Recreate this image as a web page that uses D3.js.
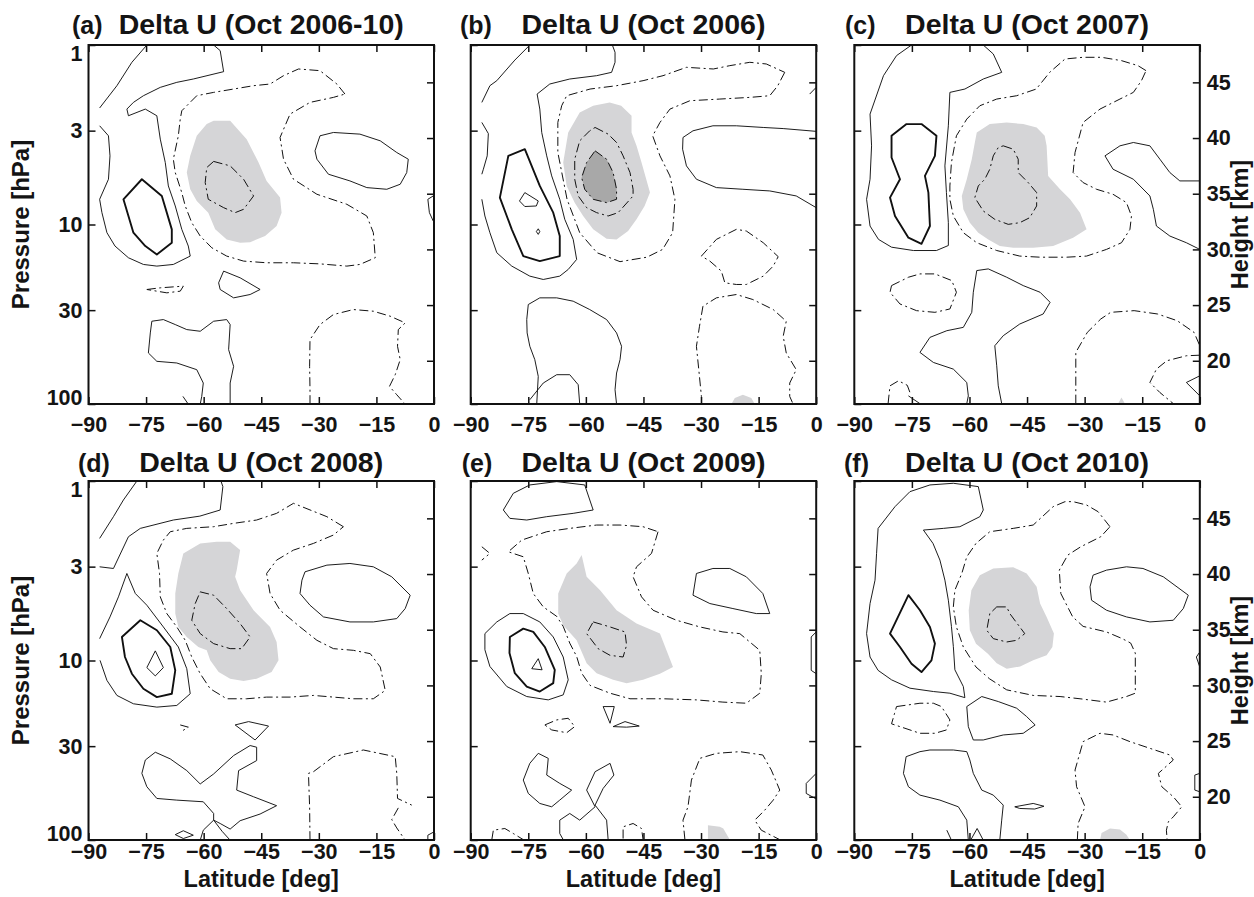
<!DOCTYPE html>
<html><head><meta charset="utf-8">
<script src="https://cdn.jsdelivr.net/npm/d3@7"></script>
<style>
body{margin:0;background:#fff;}
svg text{font-family:"Liberation Sans",Arial,Helvetica,sans-serif;font-weight:bold;fill:#141414;}
</style></head><body>
<svg id="chart" width="1254" height="897"></svg>
<script>
// ---------------- data ----------------
const latTicks=[-90,-75,-60,-45,-30,-15,0];
const pTicks=[1,3,10,30,100];
const zTicks=[20,25,30,35,40,45];
const scaleHeightKm=7;
const panelLetters=["(a)","(b)","(c)","(d)","(e)","(f)"];
const panelTitles=["Delta U (Oct 2006-10)","Delta U (Oct 2006)","Delta U (Oct 2007)","Delta U (Oct 2008)","Delta U (Oct 2009)","Delta U (Oct 2010)"];
// contour lines: [level, closed, [[lat, height km], ...]]
const linesA=[
[1,0,[[-74.8,48.35],[-78.7,46.8],[-82.6,44.7],[-87.1,42.7]]],
[1,0,[[-87.1,41.1],[-84.8,40.2],[-84.4,38.4],[-84.8,36.3],[-87.1,34.5],[-86.5,33.3],[-85.2,31.5],[-83.1,30.3],[-79.6,29.25],[-75.7,28.65],[-72.2,28.5],[-67.9,28.65],[-63.5,29.4],[-64.0,30.3],[-65.7,31.8],[-67.4,33.9],[-69.2,35.7],[-70.0,37.8],[-71.3,39.9],[-72.2,42.0],[-75.2,42.6],[-79.6,42.0],[-80.0,42.6],[-78.3,43.2],[-75.7,43.8],[-71.3,44.55],[-67.0,45.0],[-62.7,45.3],[-54.8,45.96],[-55.7,47.85],[-57.4,48.35]]],
[2,1,[[-80.9,34.5],[-76.1,36.3],[-70.9,34.8],[-68.3,31.8],[-68.3,30.6],[-72.2,29.55],[-75.2,30.3],[-78.3,31.5],[-79.6,33.0]]],
[-1,1,[[-23.2,43.95],[-25.3,44.85],[-29.7,46.05],[-35.3,46.2],[-39.2,45.6],[-42.7,44.85],[-47.0,44.7],[-52.2,44.4],[-57.4,44.1],[-61.8,43.8],[-65.7,42.45],[-66.1,41.7],[-66.6,40.2],[-67.9,38.1],[-67.4,36.9],[-65.7,35.1],[-64.8,33.9],[-63.1,32.4],[-60.9,31.2],[-57.9,30.15],[-54.0,29.4],[-49.6,28.95],[-43.6,28.8],[-36.6,28.8],[-29.7,28.7],[-22.7,28.5],[-19.3,28.65],[-15.3,29.25],[-15.8,31.5],[-17.5,33.0],[-22.7,34.05],[-30.5,34.95],[-36.6,36.3],[-39.2,38.1],[-40.1,40.05],[-37.5,42.15],[-32.3,43.2],[-26.2,43.65]]],
[-2,1,[[-57.4,37.9],[-53.1,37.5],[-49.6,36.3],[-47.0,34.8],[-49.6,33.6],[-51.8,33.3],[-54.8,33.75],[-58.8,34.5],[-59.6,36.0],[-59.2,37.35]]],
[1,1,[[-29.7,40.2],[-26.2,40.5],[-19.3,40.35],[-14.0,39.75],[-9.7,38.7],[-6.7,38.1],[-7.1,36.9],[-8.8,35.85],[-12.3,35.4],[-17.5,35.55],[-21.9,36.15],[-27.5,36.75],[-30.5,38.1],[-31.0,38.85]]],
[1,0,[[-0.2,34.8],[-1.6,34.5],[-1.2,33.3],[-0.2,32.55]]],
[-1,1,[[-74.8,26.4],[-71.3,26.55],[-65.3,26.7],[-66.1,26.25],[-69.6,26.1]]],
[1,1,[[-54.8,28.05],[-50.5,27.45],[-45.3,26.4],[-47.9,25.95],[-52.2,25.65],[-55.7,26.4],[-56.1,27.0]]],
[1,0,[[-53.1,16.1],[-53.1,18.0],[-52.2,19.5],[-53.5,21.0],[-53.1,23.25],[-54.0,23.7],[-57.4,23.55],[-60.9,22.65],[-64.4,22.8],[-67.4,23.25],[-70.5,23.7],[-73.5,23.55],[-73.9,22.5],[-74.4,20.7],[-72.2,19.95],[-67.0,19.8],[-61.8,19.2],[-60.1,18.0],[-60.5,16.8],[-60.9,16.1]]],
[1,0,[[-65.4,16.8],[-64.0,16.1]]],
[-1,0,[[-32.3,16.1],[-32.3,17.4],[-32.4,19.5],[-32.3,21.9],[-29.7,23.25],[-26.2,24.15],[-21.0,24.6],[-15.8,24.45],[-11.4,24.0],[-7.5,23.4],[-9.3,22.8],[-9.5,21.3],[-8.8,20.1],[-10.1,18.75],[-11.6,17.7],[-9.7,16.95],[-7.5,16.1]]]
];
// shaded areas: [shade level, [[lat, height km], ...]]
const shadeA=[
[1,[[-57.4,41.55],[-53.1,41.55],[-48.8,39.9],[-45.7,37.8],[-43.6,36.15],[-40.1,34.65],[-39.7,33.3],[-41.0,32.1],[-44.0,31.2],[-47.9,30.65],[-50.5,30.6],[-54.0,30.9],[-57.0,31.8],[-58.8,33.3],[-61.8,34.35],[-63.5,35.4],[-64.4,36.9],[-63.5,38.4],[-61.8,40.2],[-59.2,41.25]]]
];
const linesB=[
[1,0,[[-74.6,48.35],[-78.5,47.0],[-83.2,45.15],[-85.0,44.7],[-87.1,43.2]]],
[1,0,[[-87.1,41.4],[-85.4,40.4],[-85.7,38.4],[-86.7,37.2],[-87.1,36.75]]],
[1,0,[[-87.1,34.5],[-86.3,33.0],[-85.0,31.5],[-83.2,29.7],[-79.3,28.5],[-74.6,27.6],[-71.1,27.3],[-66.8,27.6],[-64.6,28.2],[-62.4,29.1],[-63.3,30.9],[-65.5,32.7],[-66.8,34.5],[-68.9,36.6],[-70.2,38.4],[-71.5,40.5],[-72.0,42.6],[-72.7,43.95],[-69.4,44.85],[-64.2,45.3],[-57.2,45.6],[-53.3,45.9],[-52.4,46.8],[-52.4,47.7],[-53.1,48.35]]],
[2,1,[[-75.9,39.0],[-72.0,35.7],[-68.5,33.3],[-66.8,31.2],[-66.8,29.4],[-72.0,28.95],[-76.3,29.4],[-79.3,31.8],[-82.4,34.65],[-80.2,38.4]]],
[3,1,[[-75.9,35.1],[-72.4,34.35],[-72.9,33.9],[-75.9,33.85],[-77.3,34.35]]],
[3,1,[[-72.4,31.85],[-72.0,31.6],[-72.4,31.35],[-72.9,31.6]]],
[-1,1,[[-8.2,45.9],[-10.0,44.7],[-12.1,43.8],[-17.3,43.65],[-25.1,43.5],[-32.9,43.35],[-38.1,42.6],[-40.7,41.4],[-42.6,40.2],[-40.7,38.4],[-38.1,36.6],[-36.8,34.5],[-37.4,31.5],[-40.0,30.0],[-44.1,29.3],[-51.1,28.9],[-57.1,29.7],[-61.6,31.5],[-64.9,34.5],[-67.3,38.7],[-67.3,41.4],[-66.3,42.9],[-65.0,43.8],[-58.9,44.4],[-52.0,44.7],[-45.1,45.15],[-39.9,45.6],[-33.8,46.35],[-26.8,46.2],[-22.5,46.5],[-17.3,46.8],[-13.0,46.65]]],
[-2,1,[[-57.6,40.95],[-54.2,40.35],[-52.0,39.6],[-50.3,38.4],[-48.5,36.9],[-47.7,35.4],[-47.7,34.8],[-51.6,33.3],[-54.2,33.0],[-57.2,33.3],[-59.8,33.75],[-62.0,34.8],[-62.9,36.3],[-62.9,38.1],[-61.6,39.75],[-59.0,40.65]]],
[-3,1,[[-57.6,38.85],[-54.6,38.1],[-52.9,36.9],[-52.0,35.4],[-52.0,34.5],[-54.6,34.2],[-58.1,34.5],[-60.3,35.4],[-61.1,36.45],[-59.8,37.8]]],
[1,0,[[0,40.6],[-8.6,40.85],[-13.8,40.95],[-20.8,41.1],[-26.9,41.1],[-32.1,40.65],[-34.7,40.05],[-34.8,39.0],[-33.8,37.5],[-31.2,36.3],[-26.0,35.55],[-19.1,35.4],[-12.1,35.25],[-5.2,34.8],[0,33.75]]],
[1,0,[[-1.7,43.95],[0,44.55]]],
[-1,1,[[-29.9,29.4],[-26.0,30.9],[-20.8,31.8],[-18.2,31.65],[-13.8,30.6],[-9.9,29.35],[-11.2,28.5],[-13.8,27.6],[-18.2,26.85],[-20.8,26.85],[-23.8,27.0],[-24.7,28.05],[-27.7,28.95]]],
[-1,0,[[-29.9,16.1],[-29.9,16.8],[-30.5,18.9],[-31.2,21.3],[-30.4,23.1],[-29.5,24.9],[-26.0,25.65],[-20.8,25.95],[-16.5,25.5],[-11.2,24.6],[-7.8,23.55],[-8.6,22.2],[-7.8,20.7],[-5.2,19.2],[-6.9,18.0],[-6.9,16.8],[-6.0,16.1]]],
[1,0,[[-72.8,16.1],[-72.4,18.6],[-73.3,20.1],[-74.6,21.3],[-75.3,22.5],[-75.4,23.7],[-75.0,25.05],[-72.0,25.65],[-67.6,25.65],[-63.3,25.35],[-59.0,24.6],[-54.6,23.7],[-52.0,22.5],[-50.7,21.3],[-51.1,20.1],[-52.0,18.9],[-52.4,17.4],[-52.0,16.1]]],
[1,0,[[-74.6,16.5],[-71.1,18.0],[-67.6,18.75],[-64.2,18.75],[-62.0,17.85],[-61.6,16.1]]]
];
const shadeB=[
[1,[[-61.6,42.3],[-58.1,42.9],[-53.8,43.2],[-50.8,42.9],[-48.1,42.0],[-48.1,40.5],[-46.8,39.3],[-45.5,37.8],[-43.3,35.1],[-44.7,33.9],[-46.8,32.7],[-49.0,31.65],[-52.0,30.9],[-54.6,30.95],[-58.1,31.8],[-60.7,33.0],[-62.9,34.2],[-65.0,35.7],[-65.9,37.8],[-64.6,40.5]]],
[2,[[-57.6,38.85],[-54.6,38.1],[-52.9,36.9],[-52.0,35.4],[-52.0,34.5],[-54.6,34.2],[-58.1,34.5],[-60.3,35.4],[-61.1,36.45],[-59.8,37.8]]],
[1,[[-22.1,16.1],[-21.2,16.65],[-19.1,16.95],[-16.9,16.65],[-16.0,16.1]]]
];
const linesC=[
[1,0,[[-75.1,48.35],[-79.0,47.4],[-82.4,45.6],[-85.9,42.15],[-85.5,39.3],[-85.9,36.3],[-86.8,34.5],[-85.9,32.1],[-83.7,30.9],[-80.3,30.2],[-74.6,29.9],[-68.6,29.9],[-65.5,30.35],[-65.5,32.4],[-66.0,35.1],[-66.4,37.5],[-65.5,41.1],[-65.1,44.1],[-61.2,44.4],[-56.4,45.3],[-51.6,45.9],[-53.8,47.55],[-56.4,48.35]]],
[2,1,[[-80.3,40.2],[-76.4,41.25],[-72.5,41.25],[-68.6,40.2],[-69.0,38.4],[-71.6,36.6],[-70.7,35.1],[-70.3,32.1],[-72.5,30.5],[-75.9,31.05],[-79.4,33.0],[-80.7,34.65],[-78.1,36.3],[-80.3,38.25]]],
[-1,1,[[-14.0,46.05],[-16.1,46.5],[-20.4,46.95],[-25.6,47.25],[-30.4,47.25],[-35.1,47.1],[-39.1,45.9],[-42.6,44.4],[-47.7,43.8],[-52.9,43.5],[-57.3,42.9],[-60.7,41.7],[-63.4,40.2],[-64.7,37.8],[-65.1,35.7],[-65.1,34.5],[-64.2,33.0],[-61.6,31.5],[-58.1,30.6],[-52.9,29.9],[-46.9,29.4],[-41.6,29.3],[-34.7,29.3],[-29.5,29.4],[-24.3,30.0],[-20.4,30.6],[-18.2,31.8],[-17.8,33.0],[-19.1,34.2],[-22.6,34.95],[-26.9,35.4],[-30.4,36.0],[-33.0,36.9],[-32.5,38.7],[-30.4,41.4],[-26.0,42.6],[-20.8,43.5],[-17.3,44.1],[-15.2,45.15]]],
[-2,1,[[-51.2,39.3],[-48.6,39.0],[-47.3,38.1],[-47.3,36.9],[-44.7,36.0],[-42.5,35.1],[-42.5,33.9],[-44.3,32.85],[-46.9,32.4],[-49.9,32.25],[-53.4,32.7],[-56.4,33.45],[-58.6,34.65],[-57.7,35.7],[-56.0,36.3],[-54.7,37.2],[-53.8,38.4],[-52.5,39.15]]],
[1,0,[[0,36.15],[-5.2,36.15],[-7.8,36.9],[-10.4,38.1],[-13.0,39.3],[-17.3,39.6],[-20.8,39.3],[-24.7,38.4],[-22.6,37.2],[-17.3,36.3],[-13.0,34.8],[-12.1,33.6],[-11.3,32.1],[-7.8,31.2],[-3.5,30.6],[0,30.0]]],
[-1,1,[[-80.3,26.75],[-75.9,27.5],[-72.9,27.8],[-69.0,27.8],[-64.6,27.2],[-63.4,26.15],[-65.1,24.65],[-69.0,24.35],[-73.8,24.5],[-78.1,25.1],[-80.7,26.15]]],
[1,0,[[-60.7,16.15],[-60.3,16.85],[-60.7,18.05],[-64.2,19.25],[-69.4,19.85],[-72.9,20.75],[-70.3,22.1],[-65.9,22.7],[-61.6,23.0],[-59.4,24.35],[-59.0,26.15],[-58.1,28.1],[-55.1,28.25],[-50.3,27.5],[-46.0,26.75],[-41.6,26.15],[-39.0,25.25],[-40.8,24.2],[-46.9,23.3],[-51.2,22.25],[-53.4,21.35],[-52.9,19.55],[-52.5,17.75],[-51.6,16.15]]],
[-1,0,[[-32.3,16.15],[-32.3,17.75],[-32.3,20.75],[-29.3,22.55],[-25.8,23.75],[-23.2,24.35],[-17.1,24.5],[-11.0,24.2],[-5.9,23.6],[-1.5,22.55],[0,21.35]]],
[-1,0,[[0,20.5],[-3.5,20.45],[-8.6,20.0],[-11.3,19.25],[-13.0,18.05],[-10.4,17.15],[-6.9,16.15]]],
[1,0,[[0,18.65],[-3.5,18.05],[0,16.85]]],
[-1,0,[[-81.2,16.15],[-80.7,17.75],[-78.5,18.2],[-76.2,17.8],[-75.5,17.15]]],
[1,0,[[-75.9,16.85],[-72.9,16.15]]]
];
const shadeC=[
[1,[[-58.1,40.5],[-54.7,41.25],[-50.3,41.4],[-46.0,41.25],[-42.5,40.95],[-40.4,40.2],[-39.9,39.3],[-39.5,36.6],[-36.4,35.4],[-33.8,34.5],[-31.2,33.3],[-29.5,31.8],[-33.0,31.05],[-38.2,30.3],[-43.4,30.15],[-48.6,30.15],[-52.1,30.3],[-55.1,30.9],[-57.7,31.5],[-59.9,32.4],[-61.6,33.6],[-62.0,34.8],[-60.7,36.3],[-59.4,38.1],[-58.6,39.6]]],
[1,[[-21.3,16.15],[-20.4,16.7],[-19.5,16.15]]]
];
const linesD=[
[1,0,[[-77.4,48.35],[-80.9,46.65],[-83.5,45.15],[-87.1,43.2]]],
[1,0,[[-87.1,40.65],[-83.5,40.5],[-79.6,43.35],[-76.5,44.1],[-67.9,44.85],[-61.0,45.2],[-55.7,45.75],[-55.0,47.85],[-55.5,48.35]]],
[1,0,[[-87.1,34.2],[-84.4,36.15],[-82.2,37.95],[-80.0,40.05],[-77.8,38.25],[-74.8,37.2],[-70.5,35.25],[-66.6,33.45],[-64.4,31.5],[-63.5,29.25],[-67.0,28.2],[-72.2,28.05],[-78.3,28.35],[-82.6,29.1],[-85.2,30.45],[-87.0,32.25]]],
[2,1,[[-81.3,34.35],[-76.5,35.85],[-72.2,34.95],[-68.7,33.45],[-67.4,31.35],[-68.3,29.25],[-72.2,28.95],[-75.7,29.7],[-78.7,31.05],[-80.5,32.55]]],
[3,1,[[-72.6,33.1],[-70.5,31.6],[-72.6,30.85],[-74.8,31.6]]],
[-1,1,[[-23.6,44.25],[-27.9,45.15],[-36.6,46.35],[-41.0,45.45],[-46.2,44.85],[-52.2,44.55],[-57.4,44.25],[-64.4,44.1],[-68.7,43.8],[-70.5,43.05],[-72.2,41.85],[-71.5,40.05],[-71.3,37.95],[-69.6,36.45],[-67.0,35.25],[-64.8,34.05],[-63.1,32.55],[-60.9,31.05],[-58.3,29.7],[-54.0,28.8],[-48.8,28.8],[-43.6,28.95],[-37.5,28.95],[-31.4,29.1],[-26.2,28.95],[-21.0,28.8],[-15.8,28.8],[-12.7,29.55],[-14.0,31.65],[-16.6,32.85],[-21.0,33.15],[-26.2,33.3],[-30.5,34.05],[-34.9,35.25],[-40.1,36.75],[-42.7,38.25],[-43.6,40.05],[-41.0,41.25],[-36.6,42.15],[-31.4,42.75],[-26.2,43.5]]],
[-2,1,[[-60.9,38.4],[-57.4,38.1],[-54.0,36.9],[-50.5,35.55],[-47.9,34.35],[-50.1,33.3],[-53.1,33.3],[-57.4,33.75],[-60.9,34.65],[-63.1,35.85],[-62.2,37.35]]],
[1,1,[[-33.6,40.2],[-27.9,40.8],[-21.9,40.95],[-15.8,40.65],[-11.0,39.75],[-6.2,38.1],[-7.5,36.9],[-9.7,36.0],[-15.8,35.7],[-21.9,35.7],[-28.8,36.15],[-32.3,37.2],[-34.9,38.25],[-34.4,39.45]]],
[-1,0,[[-66.1,26.45],[-64.0,26.25],[-65.4,25.95]]],
[1,1,[[-51.8,26.45],[-48.3,26.75],[-43.1,26.35],[-46.6,25.1]]],
[1,1,[[-72.6,24.0],[-68.7,23.4],[-64.4,22.35],[-60.9,21.15],[-57.4,22.05],[-52.2,23.7],[-47.9,24.6],[-46.2,24.45],[-46.2,23.25],[-50.9,22.35],[-51.4,20.6],[-47.0,20.0],[-41.0,19.2],[-45.3,18.45],[-50.5,17.85],[-53.1,17.1],[-55.7,17.6],[-57.4,17.9],[-57.4,18.5],[-60.1,19.55],[-67.0,19.7],[-72.2,19.85],[-74.8,20.9],[-76.1,22.1],[-75.2,23.3]]],
[1,0,[[-57.4,17.9],[-60.1,17.0],[-60.9,16.1]]],
[1,0,[[-57.4,17.9],[-55.2,16.9],[-53.1,16.1]]],
[1,1,[[-67.4,16.6],[-65.3,16.95],[-62.7,16.55],[-65.3,16.25]]],
[-1,0,[[-32.3,16.1],[-32.4,19.1],[-32.7,22.1],[-31.4,22.25],[-26.2,23.6],[-18.4,24.2],[-10.1,23.6],[-9.7,22.1],[-9.5,19.85],[-5.8,19.25]]],
[-1,0,[[-9.3,19.0],[-11.0,17.95],[-9.7,17.2],[-7.5,16.1]]],
[1,0,[[0,16.85],[-1.6,16.55],[-1.6,16.1]]]
];
const shadeD=[
[1,[[-65.3,41.85],[-60.9,42.75],[-56.6,42.9],[-53.1,42.9],[-50.5,42.15],[-51.4,40.35],[-51.8,39.75],[-50.5,38.55],[-47.0,36.75],[-42.7,35.25],[-41.0,33.9],[-40.5,32.25],[-42.3,31.2],[-46.2,30.6],[-49.6,30.4],[-53.1,30.6],[-56.1,31.2],[-58.3,32.25],[-59.2,33.15],[-61.4,33.45],[-64.4,34.35],[-66.6,35.25],[-67.4,36.45],[-67.4,38.25],[-66.6,40.05]]]
];
const linesE=[
[1,1,[[-81.5,45.75],[-78.9,47.25],[-74.6,48.0],[-67.6,48.3],[-60.3,48.0],[-58.1,45.75],[-63.3,45.45],[-70.2,45.15],[-75.4,44.85],[-79.8,45.0]]],
[-1,1,[[-41.2,43.8],[-42.9,41.85],[-46.8,40.65],[-47.7,39.75],[-45.5,37.95],[-42.5,36.75],[-36.4,35.85],[-30.3,35.25],[-24.3,34.8],[-19.9,34.65],[-14.7,33.15],[-14.3,31.05],[-14.7,29.3],[-18.2,28.4],[-24.3,28.5],[-31.2,28.7],[-39.9,28.8],[-48.5,28.8],[-53.7,29.3],[-58.9,30.0],[-61.1,31.1],[-62.4,32.6],[-64.2,33.8],[-65.9,35.3],[-67.6,36.2],[-71.1,37.05],[-73.7,38.25],[-75.0,40.05],[-76.3,41.55],[-80.2,42.0],[-76.7,43.05],[-70.2,43.8],[-64.2,44.1],[-57.2,44.4],[-51.1,44.4],[-45.1,44.25]]],
[-1,0,[[-87.1,42.45],[-85.0,41.85],[-87.1,41.25]]],
[-2,1,[[-58.1,35.7],[-53.7,35.25],[-49.8,34.8],[-49.4,33.6],[-50.3,32.55],[-53.7,32.7],[-56.8,33.3],[-59.8,34.65]]],
[1,1,[[-31.2,40.05],[-26.9,40.5],[-22.5,40.5],[-18.2,39.75],[-13.9,38.25],[-12.1,36.45],[-15.6,36.45],[-21.7,36.9],[-27.7,37.35],[-32.1,38.1]]],
[1,1,[[-86.3,34.65],[-83.2,35.7],[-79.8,36.45],[-76.3,36.45],[-72.0,35.7],[-68.5,34.35],[-65.9,32.55],[-64.6,30.5],[-65.9,29.15],[-69.8,28.7],[-75.4,29.0],[-80.6,29.9],[-85.0,31.7],[-86.3,33.2]]],
[2,1,[[-79.8,34.35],[-76.3,35.1],[-73.7,34.8],[-70.7,33.45],[-68.1,31.4],[-68.5,30.2],[-72.0,29.45],[-75.4,29.9],[-78.5,31.1],[-79.9,32.9]]],
[3,1,[[-72.4,32.4],[-71.4,31.4],[-74.1,31.5]]],
[1,1,[[-55.5,28.1],[-52.6,28.1],[-53.7,26.6]]],
[1,1,[[-52.9,26.3],[-49.8,26.75],[-46.1,26.35],[-49.4,26.25]]],
[-1,1,[[-70.7,26.45],[-67.6,26.9],[-64.6,27.05],[-62.9,26.3],[-65.0,25.75],[-68.9,26.0]]],
[1,1,[[-72.4,23.9],[-69.8,23.45],[-70.2,21.95],[-66.8,21.2],[-63.7,20.6],[-66.8,19.7],[-68.9,19.1],[-72.0,19.4],[-75.0,20.3],[-76.3,21.5],[-74.6,23.0]]],
[1,0,[[-65.9,16.15],[-66.8,16.7],[-66.8,17.9],[-64.2,18.5],[-61.6,17.9],[-57.6,19.1],[-59.8,20.6],[-57.6,22.25],[-53.7,23.0],[-52.7,21.95],[-55.5,20.75],[-57.6,19.25],[-54.6,17.9],[-54.2,16.15]]],
[-1,0,[[-50.3,16.25],[-50.3,17.3],[-47.7,17.6],[-45.5,17.15],[-45.1,16.15]]],
[-1,0,[[-84.5,16.15],[-84.1,17.0],[-81.1,17.15],[-78.9,16.7],[-76.3,16.15]]],
[-1,0,[[-34.2,16.15],[-34.7,17.9],[-33.4,19.1],[-32.5,21.5],[-30.3,23.45],[-26.0,23.9],[-19.9,24.05],[-13.9,23.75],[-11.7,22.4],[-10.4,21.35],[-9.5,20.6],[-11.2,19.7],[-13.4,18.8],[-16.0,17.9],[-14.3,17.0],[-9.5,16.15]]],
[1,0,[[0,22.1],[-2.6,21.2],[-2.6,20.3],[0,19.8]]],
[1,0,[[0,34.8],[-1.3,34.35],[-1.3,31.35],[0,31.05]]]
];
const shadeE=[
[1,[[-61.1,41.7],[-59.8,39.75],[-56.3,38.55],[-52.0,36.75],[-46.8,35.55],[-40.7,34.65],[-39.0,33.15],[-37.3,31.65],[-40.7,31.05],[-45.1,30.5],[-49.4,30.2],[-52.9,30.5],[-57.2,31.1],[-59.8,32.0],[-62.4,34.05],[-65.9,35.4],[-67.2,36.45],[-67.2,38.25],[-65.0,40.05],[-62.4,40.95]]],
[1,[[-28.2,17.45],[-25.1,17.3],[-24.2,17.15],[-22.5,16.15],[-28.2,16.15]]]
];
const linesF=[
[1,1,[[-56.4,45.75],[-57.7,47.85],[-64.2,48.15],[-70.3,48.0],[-75.5,47.4],[-79.4,46.05],[-83.8,44.1],[-84.2,41.85],[-84.6,39.45],[-85.9,37.35],[-86.8,34.65],[-85.9,32.55],[-83.8,31.35],[-80.3,30.5],[-75.5,29.75],[-69.4,29.45],[-65.1,29.3],[-61.2,28.9],[-61.6,29.9],[-63.8,31.4],[-64.2,33.5],[-64.7,35.3],[-65.5,37.65],[-66.4,39.45],[-67.7,41.25],[-69.5,42.75],[-72.0,43.95],[-66.8,44.1],[-62.5,44.25],[-57.3,45.15]]],
[2,1,[[-80.7,34.65],[-75.9,38.1],[-72.9,36.75],[-70.3,35.25],[-69.0,33.75],[-69.9,32.25],[-72.5,31.2],[-75.1,31.95],[-78.1,33.45]]],
[-1,1,[[-23.4,44.25],[-26.5,45.6],[-29.5,46.2],[-33.0,46.5],[-35.1,46.5],[-38.2,46.05],[-43.4,44.4],[-48.6,44.1],[-54.7,43.8],[-58.3,42.75],[-60.7,41.55],[-62.0,40.05],[-63.8,38.55],[-64.2,37.05],[-63.4,35.25],[-61.6,33.45],[-58.3,31.65],[-54.8,30.6],[-50.3,29.6],[-43.4,29.1],[-36.4,29.0],[-31.2,28.8],[-24.3,28.5],[-19.1,29.0],[-16.8,29.3],[-16.8,31.05],[-16.8,32.9],[-18.0,33.8],[-20.2,34.2],[-24.3,34.8],[-30.4,35.3],[-33.1,36.15],[-36.2,38.25],[-36.6,40.35],[-34.4,41.7],[-31.0,42.45],[-25.8,43.35]]],
[-2,1,[[-52.9,37.05],[-50.3,37.05],[-49.5,36.45],[-46.9,35.25],[-45.6,34.65],[-47.7,34.05],[-50.3,33.9],[-53.8,34.2],[-55.5,34.95],[-54.7,36.45]]],
[1,1,[[-27.8,39.9],[-24.3,40.35],[-19.1,40.65],[-14.8,40.5],[-9.5,39.75],[-3.0,38.1],[-4.3,36.9],[-6.9,35.85],[-13.0,35.7],[-19.1,36.15],[-24.3,36.75],[-28.2,37.65],[-28.6,38.85]]],
[1,0,[[0,33.0],[-0.9,32.55],[0,31.65]]],
[-1,1,[[-79.0,28.1],[-75.9,28.25],[-72.9,28.4],[-69.4,28.4],[-67.3,28.1],[-65.1,26.9],[-66.0,26.0],[-69.0,25.7],[-72.9,25.7],[-76.8,26.15],[-80.3,26.55],[-79.5,27.5]]],
[1,1,[[-60.7,28.1],[-56.8,29.0],[-52.5,28.55],[-47.7,27.95],[-45.1,27.2],[-42.9,26.45],[-46.0,25.7],[-51.2,25.55],[-56.4,25.1],[-59.0,25.1],[-60.3,26.3]]],
[1,0,[[-60.3,16.1],[-60.7,17.9],[-62.9,19.1],[-67.7,19.7],[-72.9,20.15],[-75.9,20.9],[-77.2,22.1],[-76.5,23.6],[-72.9,24.05],[-70.3,24.2],[-64.2,24.2],[-60.7,24.05],[-59.9,23.3],[-59.0,22.1],[-56.8,20.6],[-53.8,20.15],[-51.2,19.25],[-51.6,17.9],[-52.1,16.1]]],
[1,0,[[-65.9,17.0],[-64.7,16.1]]],
[1,0,[[-59.7,16.1],[-58.0,17.15],[-56.4,16.1]]],
[1,1,[[-48.2,19.1],[-43.4,19.4],[-40.6,19.15],[-43.0,18.9],[-46.9,18.95]]],
[-1,0,[[-31.9,16.1],[-31.7,17.6],[-29.9,19.1],[-32.1,20.9],[-32.5,22.4],[-30.4,24.95],[-26.0,25.7],[-22.6,25.55],[-18.2,24.95],[-13.0,24.35],[-7.8,23.75],[-6.9,23.3],[-10.8,22.1],[-9.9,20.9],[-6.9,20.0],[-4.7,19.1],[-6.9,18.2],[-8.2,17.75],[-8.7,17.0],[-8.5,16.1]]],
[1,0,[[0,22.1],[-1.3,21.95],[-1.3,20.6],[0,20.45]]]
];
const shadeF=[
[1,[[-57.3,39.9],[-53.8,40.5],[-48.6,40.6],[-45.1,40.05],[-42.5,38.85],[-41.6,37.35],[-39.9,36.15],[-38.0,34.65],[-38.4,33.45],[-39.9,32.7],[-43.4,32.25],[-46.8,31.7],[-50.3,31.5],[-52.9,32.0],[-55.2,32.85],[-58.3,33.75],[-59.9,34.95],[-60.2,36.75],[-59.5,38.55]]],
[1,[[-26.0,16.1],[-25.6,16.75],[-23.4,17.15],[-20.8,17.05],[-19.1,16.6],[-18.2,16.1]]]
];
const panelLines=[linesA,linesB,linesC,linesD,linesE,linesF];
const panelShades=[shadeA,shadeB,shadeC,shadeD,shadeE,shadeF];

// ---------------- layout ----------------
const colLeft=[88.5,470.7,854.3], rowTop=[45,481], PW=345.5, PH=359;
const letterOffset=[-16.5,-10.7,-9.3,-10.5,-9,-10.3];
const titleBase=[34,472];
const shadeFill={1:"#d5d5d7",2:"#a8a8a8"};
const svg=d3.select("#chart");

panelTitles.forEach((title,i)=>{
  const col=i%3,row=Math.floor(i/3);
  const x0=colLeft[col],y0=rowTop[row];
  const x=d3.scaleLinear().domain([-90,0]).range([x0,x0+PW]);
  const yP=d3.scaleLog().domain([1,100]).range([y0,y0+PH]);
  const yZ=d3.scaleLinear().domain([scaleHeightKm*Math.log(1000/100),scaleHeightKm*Math.log(1000/1)]).range([y0+PH,y0]);
  const g=svg.append("g");
  const cid="clip"+i;
  g.append("clipPath").attr("id",cid).append("rect").attr("x",x0).attr("y",y0).attr("width",PW).attr("height",PH);
  const plot=g.append("g").attr("clip-path",`url(#${cid})`);
  const area=d3.line().x(d=>x(d[0])).y(d=>yZ(d[1])).curve(d3.curveLinearClosed);
  panelShades[i].forEach(s=>{
    plot.append("path").attr("d",area(s[1])).attr("fill",shadeFill[s[0]]).attr("stroke","none");
  });
  panelLines[i].forEach(c=>{
    const [lev,closed,pts]=c;
    const ln=d3.line().x(d=>x(d[0])).y(d=>yZ(d[1])).curve(closed?d3.curveLinearClosed:d3.curveLinear);
    const p=plot.append("path").attr("d",ln(pts)).attr("fill","none").attr("stroke","#111")
      .attr("stroke-linejoin","round");
    if(lev<0){p.attr("stroke-width",1).attr("stroke-dasharray","9,3.5,2,3.5");}
    else if(lev===2){p.attr("stroke-width",1.9);}
    else {p.attr("stroke-width",0.95);}
  });
  // axes
  const fmtAxis=sel=>{sel.select(".domain").remove();sel.attr("font-size",null).attr("font-family",null);
    sel.selectAll(".tick line").attr("stroke","#111").attr("stroke-width",1.5);
    sel.selectAll("text").style("font-size","21.5px");};
  g.append("g").attr("transform",`translate(0,${y0+PH})`)
    .call(d3.axisBottom(x).tickValues(latTicks).tickSize(-7).tickPadding(row===0?13:4)).call(fmtAxis);
  g.append("g").attr("transform",`translate(0,${y0})`)
    .call(d3.axisTop(x).tickValues(latTicks).tickSize(-7).tickFormat("")).call(fmtAxis);
  const la=g.append("g").attr("transform",`translate(${x0},0)`)
    .call(d3.axisLeft(yP).tickValues(pTicks).tickSize(-7).tickPadding(6).tickFormat(col===0?d3.format("d"):"")).call(fmtAxis);
  la.selectAll(".tick text").attr("dy",d=>d===1?"0.72em":(d===100?"0.02em":"0.32em"));
  g.append("g").attr("transform",`translate(${x0+PW},0)`)
    .call(d3.axisRight(yZ).tickValues(zTicks).tickSize(-7).tickPadding(7).tickFormat(col===2?d3.format("d"):"")).call(fmtAxis);
  // frame
  g.append("rect").attr("x",x0).attr("y",y0).attr("width",PW).attr("height",PH)
    .attr("fill","none").attr("stroke","#111").attr("stroke-width",2);
  // titles
  g.append("text").attr("x",x0+letterOffset[i]).attr("y",titleBase[row]).style("font-size","25px").text(panelLetters[i]);
  g.append("text").attr("x",x0+PW/2).attr("y",titleBase[row]).attr("text-anchor","middle").style("font-size","28.5px").text(title);
  if(col===0){
    g.append("text").attr("transform",`translate(29,${y0+PH/2}) rotate(-90)`).attr("text-anchor","middle")
      .style("font-size","24px").text("Pressure [hPa]");
  }
  if(col===2){
    g.append("text").attr("transform",`translate(1248,${y0+PH/2}) rotate(-90)`).attr("text-anchor","middle")
      .style("font-size","23.5px").text("Height [km]");
  }
  if(row===1){
    g.append("text").attr("x",x0+PW/2).attr("y",887).attr("text-anchor","middle")
      .style("font-size","23.5px").text("Latitude [deg]");
  }
});
</script>
</body></html>
